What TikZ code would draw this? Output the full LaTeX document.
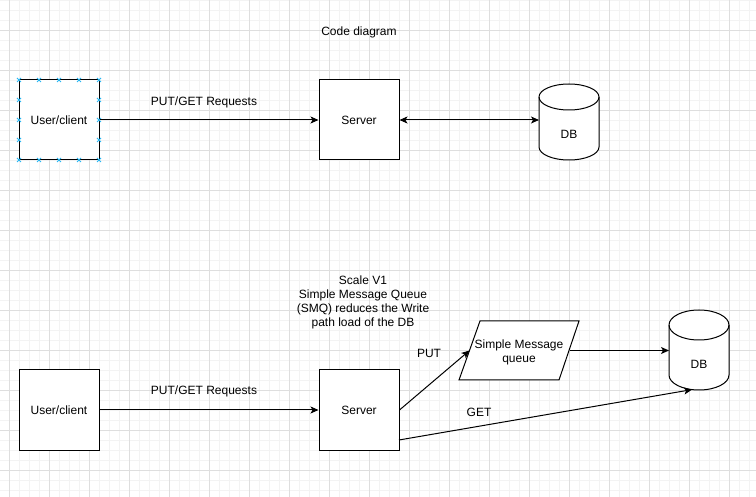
\documentclass[tikz,border=0pt]{standalone}
\usepackage{fontspec}
\setmainfont{Liberation Sans}
\usetikzlibrary{arrows.meta,calc}
\definecolor{gridminor}{RGB}{243,243,243}
\definecolor{gridmajor}{RGB}{222,222,222}
\definecolor{handle}{RGB}{41,182,242}
\tikzset{
  txt/.style={font=\fontsize{12}{14}\selectfont, inner sep=0pt, align=center},
  box/.style={txt, draw, fill=white, line width=1pt, minimum width=80pt, minimum height=80pt, text depth=-1pt},
  shapeline/.style={draw, fill=white, line width=1pt},
  conn/.style={line width=1pt, -{Stealth[length=8pt,width=7pt,inset=2pt]}},
  biconn/.style={line width=1pt, {Stealth[length=8pt,width=7pt,inset=2pt]}-{Stealth[length=8pt,width=7pt,inset=2pt]}},
  hmark/.style={handle, line width=0.8pt},
}
\begin{document}
\begin{tikzpicture}[x=1pt,y=-1pt]
\useasboundingbox (0,0) rectangle (756,497);
% grid
\foreach \gx in {9,19,...,749} \draw[gridminor, line width=0.8pt] (\gx,0) -- (\gx,497);
\foreach \gy in {0,10,...,490} \draw[gridminor, line width=0.8pt] (0,\gy) -- (756,\gy);
\foreach \gx in {9,49,...,729} \draw[gridmajor, line width=0.8pt] (\gx,0) -- (\gx,497);
\foreach \gy in {30,70,...,470} \draw[gridmajor, line width=0.8pt] (0,\gy) -- (756,\gy);

% title
\node[txt] (title) at (359,32) {Code diagram};

% ---- top row ----
\node[box] (uc1) at (59,120) {User/client};
\node[box] (srv1) at (359,120) {Server};
% DB cylinder (top)
\draw[shapeline] (539,97) -- (539,147) arc (180:360:30pt and 13pt) -- (599,97) arc (0:180:30pt and 13pt) -- cycle;
\draw[line width=1pt] (539,97) arc (180:360:30pt and 13pt);
\node[txt] (db1) at (569,134) {DB};
\coordinate (db1w) at (539,120);

% selection handles on User/client
\foreach \hx in {19,39,59,79,99} {
  \foreach \hy in {80,160} {
    \draw[hmark] (\hx-2,\hy-2) -- (\hx+2,\hy+2) (\hx-2,\hy+2) -- (\hx+2,\hy-2);
  }
}
\foreach \hy in {100,120,140} {
  \foreach \hx in {19,99} {
    \draw[hmark] (\hx-2,\hy-2) -- (\hx+2,\hy+2) (\hx-2,\hy+2) -- (\hx+2,\hy-2);
  }
}

\draw[conn] (uc1.east) -- (srv1.west);
\node[txt] (lbl1) at (204,102) {PUT/GET Requests};
\draw[biconn] (srv1.east) -- (db1w);

% ---- bottom row ----
\node[txt] (note) at (363,302) {Scale V1\\Simple Message Queue\\(SMQ) reduces the Write\\path load of the DB};
\node[box] (uc2) at (59,410) {User/client};
\node[box] (srv2) at (359,410) {Server};
% parallelogram
\draw[shapeline] (480,321) -- (579,321) -- (559,380) -- (459,380) -- cycle;
\node[txt] (smq) at (519,352) {Simple Message\\queue};
\coordinate (smqL) at (469.5,350.5);
\coordinate (smqR) at (569.5,350.5);
% DB cylinder (bottom)
\draw[shapeline] (669,325) -- (669,375) arc (180:360:30pt and 15pt) -- (729,325) arc (0:180:30pt and 15pt) -- cycle;
\draw[line width=1pt] (669,325) arc (180:360:30pt and 15pt);
\node[txt] (db2) at (699,364) {DB};
\coordinate (db2w) at (669,350.5);
\coordinate (db2s) at (692,389.6);
\coordinate (getstart) at (399,440);

\draw[conn] (uc2.east) -- (srv2.west);
\node[txt] (lbl2) at (204,391) {PUT/GET Requests};
\draw[conn] (srv2.east) -- (smqL);
\node[txt] (put) at (429,353) {PUT};
\draw[conn] (smqR) -- (db2w);
\draw[conn] (getstart) -- (db2s);
\node[txt] (get) at (479,412) {GET};
\end{tikzpicture}
\end{document}
